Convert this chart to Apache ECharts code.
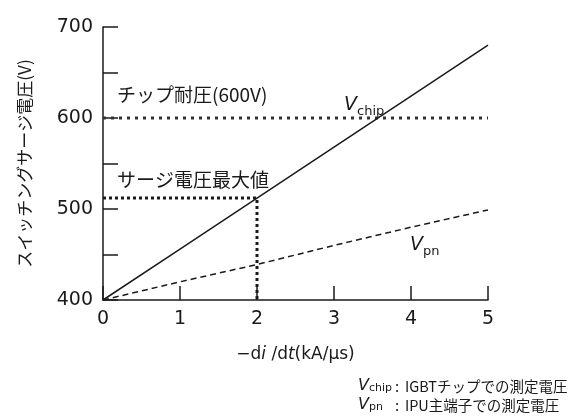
<!DOCTYPE html>
<html>
<head>
<meta charset="utf-8">
<script src="https://cdn.jsdelivr.net/npm/echarts@6/dist/echarts.min.js"></script>
<style>
  html, body { margin: 0; padding: 0; background: #fff; }
  #chart { width: 572px; height: 420px; }
</style>
</head>
<body>
<div id="chart"></div>
<script>
// -di/dt (kA/us) sample points
const didt = [0, 1, 2, 3, 4, 5];
// Surge voltage measured at the IGBT chip (V)
const vChip = [400, 456, 512, 568, 624, 680];
// Surge voltage measured at the IPU main terminals (V)
const vPn = [400, 420, 439, 460, 480, 499];
// Chip withstand voltage and the surge maximum reached at 2 kA/us
const chipRating = 600;
const surgeMaxX = 2;
const surgeMaxV = 512;
// Y tick labels shown (ticks are every 50 V)
const yTickLabels = [400, 500, 600, 700];

const FONT = '"DejaVu Sans", "Noto Sans CJK JP", sans-serif';
const JP = '"Noto Sans CJK JP", "Noto Sans", sans-serif';
const INK = '#1a1a1a';

const chart = echarts.init(document.getElementById('chart'));

const pair = (xs, ys) => xs.map((x, i) => [x, ys[i]]);

const subLabel = (main, sub) => ({
  text: '{v|' + main + '}{s|' + sub + '}',
  rich: {
    v: { fontSize: 19, fontStyle: 'italic', fontFamily: FONT, fill: INK, verticalAlign: 'bottom' },
    s: { fontSize: 13, fontFamily: FONT, fill: INK, verticalAlign: 'bottom', padding: [0, 0, -3, 0] }
  }
});

// Symbol on the left, explanation aligned in a second column
const noteLine = (sub, text) => ({
  text: '{v|V}{s|' + sub + '}{c|:}{t|' + text + '}',
  rich: {
    v: { fontSize: 16, fontStyle: 'italic', fontFamily: FONT, fill: INK },
    s: { fontSize: 11, fontFamily: FONT, fill: INK, padding: [4, 0, 0, 0], width: 26 },
    c: { fontSize: 15, fontFamily: JP, fill: INK, width: 10 },
    t: { fontSize: 14.5, fontFamily: JP, fill: INK }
  }
});

chart.setOption({
  animation: false,
  backgroundColor: '#fff',
  textStyle: { fontFamily: FONT, color: INK },
  grid: { left: 103, right: 84, top: 27, bottom: 120 },
  xAxis: {
    type: 'value', min: 0, max: 5, interval: 1,
    axisLine: { lineStyle: { color: INK, width: 1.5 } },
    axisTick: { inside: true, length: 14, lineStyle: { color: INK, width: 1.5 } },
    axisLabel: { color: INK, fontSize: 19, fontFamily: FONT, margin: 10 },
    splitLine: { show: false },
    name: '{m|−d}{i|i}{m| /d}{i|t}{m|(kA/μs)}',
    nameLocation: 'middle', nameGap: 46,
    nameTextStyle: {
      rich: {
        m: { fontSize: 17, fontFamily: FONT, color: INK },
        i: { fontSize: 17, fontFamily: FONT, fontStyle: 'italic', color: INK }
      }
    }
  },
  yAxis: {
    type: 'value', min: 400, max: 700, interval: 50,
    axisLine: { show: true, lineStyle: { color: INK, width: 1.5 } },
    axisTick: { show: true, inside: true, length: 15, lineStyle: { color: INK, width: 1.5 } },
    axisLabel: {
      color: INK, fontSize: 19, fontFamily: FONT, margin: 10,
      formatter: v => (yTickLabels.indexOf(v) >= 0 ? String(v) : '')
    },
    splitLine: { show: false },
    name: 'スイッチングサージ電圧(V)',
    nameLocation: 'middle', nameGap: 70, nameRotate: 90,
    nameTextStyle: { fontSize: 17, fontFamily: JP, color: INK }
  },
  series: [
    {
      name: 'chip rating', type: 'line', symbol: 'none', silent: true,
      data: [[0, chipRating], [5, chipRating]],
      lineStyle: { color: '#333', width: 3, type: [3, 5] }
    },
    {
      name: 'surge max', type: 'line', symbol: 'none', silent: true,
      data: [[0, surgeMaxV], [surgeMaxX, surgeMaxV], [surgeMaxX, 400]],
      lineStyle: { color: INK, width: 3, type: [3, 3] }
    },
    {
      name: 'Vchip', type: 'line', symbol: 'none',
      data: pair(didt, vChip),
      lineStyle: { color: INK, width: 1.5 }
    },
    {
      name: 'Vpn', type: 'line', symbol: 'none',
      data: pair(didt, vPn),
      lineStyle: { color: INK, width: 1.5, type: [6, 4] }
    }
  ],
  graphic: [
    { type: 'text', left: 117, top: 85,
      style: { text: 'チップ耐圧(600V)', font: '19px ' + JP, fill: INK } },
    { type: 'text', left: 117, top: 170,
      style: { text: 'サージ電圧最大値', font: '19px ' + JP, fill: INK } },
    { type: 'text', left: 344, top: 96, style: subLabel('V', 'chip') },
    { type: 'text', left: 410, top: 236, style: subLabel('V', 'pn') },
    { type: 'text', left: 358, top: 378, style: noteLine('chip', 'IGBTチップでの測定電圧') },
    { type: 'text', left: 358, top: 397, style: noteLine('pn', 'IPU主端子での測定電圧') }
  ]
});
</script>
</body>
</html>
